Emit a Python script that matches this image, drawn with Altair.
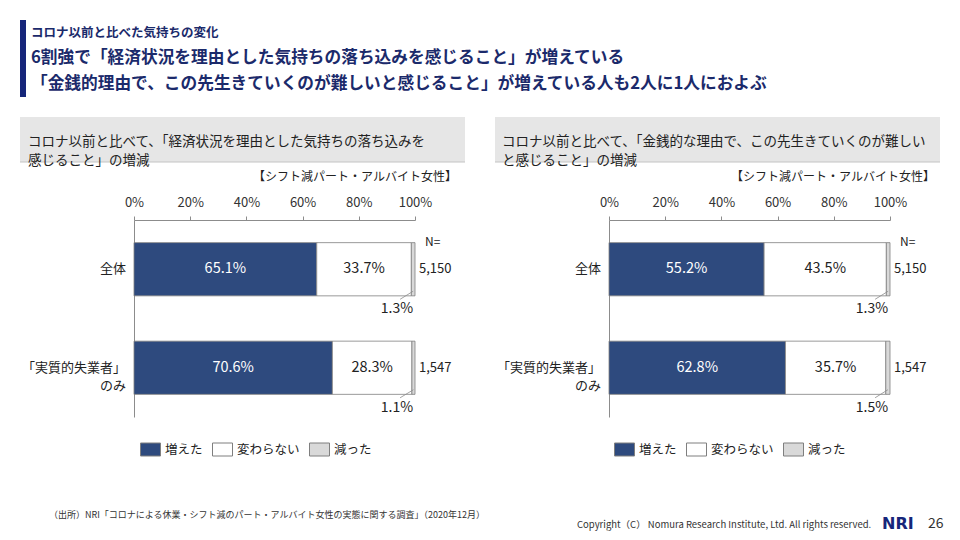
import altair as alt
import pandas as pd

# ---- data ----
categories = ["全体", "「実質的失業者」\nのみ"]
responses = ["増えた", "変わらない", "減った"]
sample_n = ["5,150", "1,547"]

left_increase = [65.1, 70.6]
left_same = [33.7, 28.3]
left_decrease = [1.3, 1.1]

right_increase = [55.2, 62.8]
right_same = [43.5, 35.7]
right_decrease = [1.3, 1.5]

axis_ticks = [0, 0.2, 0.4, 0.6, 0.8, 1.0]

subtitle = "コロナ以前と比べた気持ちの変化"
title1 = "6割強で「経済状況を理由とした気持ちの落ち込みを感じること」が増えている"
title2 = "「金銭的理由で、この先生きていくのが難しいと感じること」が増えている人も2人に1人におよぶ"
left_header = "コロナ以前と比べて、「経済状況を理由とした気持ちの落ち込みを\n感じること」の増減"
right_header = "コロナ以前と比べて、「金銭的な理由で、この先生きていくのが難しい\nと感じること」の増減"
sample_note = "【シフト減パート・アルバイト女性】"
source_note = "（出所）NRI「コロナによる休業・シフト減のパート・アルバイト女性の実態に関する調査」（2020年12月）"
copyright_note = "Copyright（C）  Nomura Research Institute, Ltd. All rights reserved."
logo_text = "NRI"
page_no = "26"

NAVY = "#2e4a7e"
DEEP = "#16267a"
TITLE_C = "#1b2a6b"
COLORS = [NAVY, "#ffffff", "#d9d9d9"]
FONT = "Noto Sans CJK JP"


def txt(s, x, y, size, color="#222222", weight="normal", align="left",
        baseline="middle", line_height=None, font=FONT, style="normal"):
    kw = dict(align=align, baseline=baseline, fontSize=size, color=color,
              fontWeight=weight, font=font, fontStyle=style)
    if line_height:
        kw["lineBreak"] = "\n"
        kw["lineHeight"] = line_height
    return alt.Chart(pd.DataFrame({"t": [s]})).mark_text(**kw).encode(
        x=alt.value(x), y=alt.value(y), text="t:N")


def box(x0, x1, y0, y1, color):
    return alt.Chart(pd.DataFrame({"k": [0]})).mark_rect(color=color).encode(
        x=alt.value(x0), x2=alt.value(x1), y=alt.value(y0), y2=alt.value(y1))


def hline(x0, x1, y, color):
    return alt.Chart(pd.DataFrame({"k": [0]})).mark_rule(color=color, strokeWidth=1).encode(
        x=alt.value(x0), x2=alt.value(x1), y=alt.value(y))


def panel(inc, same, dec, x0, x1, legend_x):
    rows = []
    for i, cat in enumerate(categories):
        for j, (resp, vals) in enumerate(zip(responses, [inc, same, dec])):
            rows.append(dict(cat=cat, row=i, resp=resp, order=j,
                             value=vals[i], n=sample_n[i]))
    df = pd.DataFrame(rows)

    xs = alt.Scale(domain=[0, 1], range=[x0, x1], nice=False)
    ys = alt.Scale(domain=[-0.5, 1.5], range=[212, 409], nice=False, zero=False)
    xaxis = alt.Axis(orient="top", offset=-212, format="%", values=axis_ticks,
                     grid=False, tickSize=4, tickColor="#8c8c8c", domainColor="#8c8c8c",
                     labelFontSize=13, labelColor="#333333", labelPadding=7,
                     labelFlush=False, title=None, labelFont=FONT)
    yaxis = alt.Axis(orient="left", offset=-x0, labels=False, ticks=False, grid=False,
                     domainColor="#8c8c8c", title=None)

    def X(f):
        return alt.X(f, type="quantitative", scale=xs, axis=xaxis)

    def Y(f):
        return alt.Y(f, type="quantitative", scale=ys, axis=yaxis)

    base = alt.Chart(df).transform_stack(
        stack="value", as_=["v0", "v1"], groupby=["cat"],
        sort=[alt.SortField("order", order="ascending")], offset="normalize"
    ).transform_calculate(
        mid="(datum.v0 + datum.v1) / 2",
        y0="datum.row - 0.27",
        y1="datum.row + 0.27",
        lx="datum.v1 - 0.053",
        ly0="datum.row + 0.223",
        ly1="datum.row + 0.305",
        lab="format(datum.value, '.1f') + '%'",
    )

    bars = base.mark_bar(stroke="#808080", strokeWidth=0.8).encode(
        x=X("v0"), x2="v1", y=Y("y0"), y2="y1",
        color=alt.Color("resp:N", scale=alt.Scale(domain=responses, range=COLORS),
                        legend=alt.Legend(orient="none", legendX=legend_x, legendY=431,
                                          direction="horizontal", title=None,
                                          symbolType="M-1,-0.65H1V0.65H-1Z",
                                          symbolSize=400, symbolStrokeColor="#7f7f7f",
                                          symbolStrokeWidth=1, symbolOpacity=1,
                                          labelFontSize=12.5, labelColor="#222222",
                                          labelOffset=4, columnPadding=7, padding=0,
                                          labelFont=FONT)))
    seg = base.transform_filter("datum.order < 2").mark_text(fontSize=14.5, font=FONT).encode(
        x=X("mid"), y=Y("row"), text="lab:N",
        color=alt.condition(alt.datum.order == 0, alt.value("white"), alt.value("#222222")))
    small = base.transform_filter("datum.order == 2").mark_text(
        fontSize=14, dx=-18, dy=40, color="#222222", font=FONT).encode(
        x=X("v1"), y=Y("row"), text="lab:N")
    leader = base.transform_filter("datum.order == 2").mark_rule(
        color="#8c8c8c", strokeWidth=0.8).encode(
        x=X("mid"), x2="lx", y=Y("ly0"), y2="ly1")
    nlab = base.transform_filter("datum.order == 2").mark_text(
        align="left", dx=4, fontSize=13, color="#222222", font=FONT).encode(
        x=X("v1"), y=Y("row"), text="n:N")
    ntitle = base.transform_filter("datum.order == 2 && datum.row == 0").mark_text(
        text="N=", align="left", dx=10, dy=-27, fontSize=12, color="#222222", font=FONT).encode(
        x=X("v1"), y=Y("row"))
    catlab = base.transform_filter("datum.order == 0").mark_text(
        align="right", lineBreak="\n", lineHeight=18, fontSize=13, color="#222222",
        font=FONT).encode(x=alt.value(x0 - 8), y=Y("row"), text="cat:N")
    return alt.layer(bars, seg, small, leader, nlab, ntitle, catlab)


decor = [
    box(12, 18, 12, 89, DEEP),
    txt(subtitle, 23, 25, 12.5, TITLE_C, "bold"),
    txt(title1, 23, 50, 16.7, TITLE_C, "bold"),
    txt(title2, 23, 76, 16.7, TITLE_C, "bold"),
    box(12, 457, 109, 154, "#e6e6e6"),
    hline(12, 457, 154, "#c4c4c4"),
    box(487, 932, 109, 154, "#e6e6e6"),
    hline(487, 932, 154, "#c4c4c4"),
    txt(left_header, 20, 133.5, 13.5, "#222222", line_height=19),
    txt(right_header, 494, 133.5, 13.5, "#222222", line_height=19),
    txt(sample_note, 449, 169, 12, "#222222", align="right"),
    txt(sample_note, 927, 169, 12, "#222222", align="right"),
    txt(source_note, 41, 507, 9, "#333333"),
    txt(copyright_note, 569, 517, 9.5, "#333333"),
    txt(logo_text, 874, 516, 16, DEEP, "bold", font="DejaVu Sans"),
    txt(page_no, 920, 516, 14, "#333333"),
]

left = panel(left_increase, left_same, left_decrease, 126, 407, 132)
right = panel(right_increase, right_same, right_decrease, 601, 882, 606)

chart = alt.layer(*decor, left, right).resolve_scale(
    x="independent", y="independent", color="independent"
).properties(
    width=944, height=524, padding=0, background="white",
    autosize=alt.AutoSizeParams(type="none"),
).configure(font=FONT).configure_view(stroke=None)

chart.save("out.html", embed_options={"renderer": "svg", "actions": False})
